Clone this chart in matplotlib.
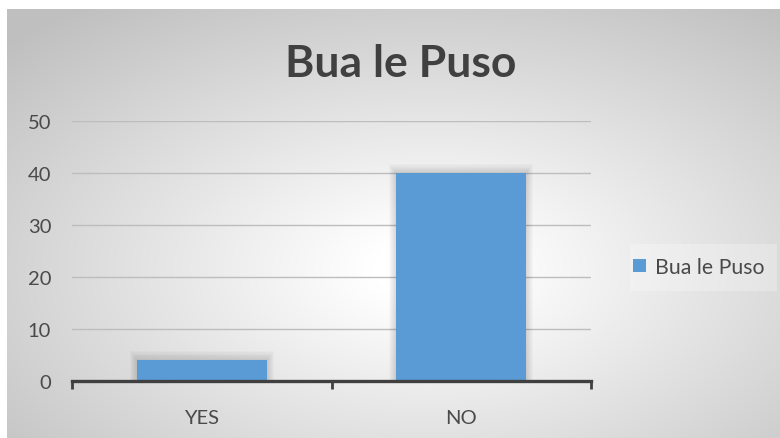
import numpy as np
import matplotlib
matplotlib.use("Agg")
import matplotlib.pyplot as plt
from matplotlib.patches import Patch, Rectangle

# chart data
categories = ["YES", "NO"]
values = [4, 40]
series_name = "Bua le Puso"
title = "Bua le Puso"
y_ticks = [0, 10, 20, 30, 40, 50]

W, H = 780, 439
plt.rcParams["font.family"] = ["Lato", "DejaVu Sans"]
TEXT = "#4a4a4a"

fig = plt.figure(figsize=(W / 100, H / 100), dpi=100)
fig.patch.set_facecolor("white")

# radial grey-to-white backdrop for the chart area
bg = fig.add_axes([7 / W, 0, 1 - 7 / W, 1 - 10 / H], zorder=-10)
gx, gy = np.meshgrid(np.linspace(7, W, 400), np.linspace(10, H, 240))
u = (gx - 430) / (W / 2)
v = (gy - 270) / (H / 2)
r = np.sqrt(u ** 2 + v ** 2)
t = np.clip((r - 0.15) / 1.35, 0, 1)
shade = 1.0 - 0.25 * t
bg.imshow(np.dstack([shade] * 3), aspect="auto", extent=(0, 1, 0, 1),
          interpolation="bilinear")
bg.set_axis_off()

ax = fig.add_axes([72 / W, 1 - 382 / H, (591 - 72) / W, (382 - 122) / H])
ax.set_facecolor("none")
x = np.arange(len(categories))
vals = np.array(values, dtype=float)

# soft halo behind the bars
for k in range(1, 8):
    ax.bar(x, vals + 0.25 * k, width=0.5 + 0.008 * k, color="black",
           alpha=0.02, lw=0, zorder=1)
ax.bar(x, vals, width=0.5, color="#5b9bd5", lw=0, zorder=3)

ax.set_xlim(-0.5, len(categories) - 0.5)
ax.set_ylim(0, 50)
ax.set_yticks(y_ticks)
ax.set_yticklabels([str(t) for t in y_ticks])
ax.yaxis.grid(True, color="#bdbdbd", lw=1.0, zorder=0)
ax.set_axisbelow(True)
ax.tick_params(axis="y", length=0, pad=15, labelsize=14.5, labelcolor=TEXT)

ax.set_xticks(np.arange(-0.5, len(categories)), labels=[])
ax.set_xticks(x, labels=categories, minor=True)
ax.tick_params(axis="x", which="major", length=6, width=2, color="#404040",
               direction="out")
ax.tick_params(axis="x", which="minor", length=0, pad=20, labelsize=14.5,
               labelcolor=TEXT)

for side in ("left", "right", "top"):
    ax.spines[side].set_visible(False)
ax.spines["bottom"].set_color("#404040")
ax.spines["bottom"].set_linewidth(2.4)
ax.spines["bottom"].set_zorder(5)

fig.text(401 / W, 1 - 77 / H, title, ha="center", va="baseline",
         fontsize=32, fontweight="bold", color="#404040")

# legend panel, then the legend entry on top of it
fig.add_artist(Rectangle((630 / W, 1 - 292 / H), 147 / W, 47 / H,
                         transform=fig.transFigure, facecolor="white",
                         alpha=0.25, lw=0, zorder=1))
fig.legend(handles=[Patch(facecolor="#5b9bd5", lw=0, label=series_name)],
           loc="center left", bbox_to_anchor=(633 / W, 1 - 268 / H),
           frameon=False, fontsize=15.3, handlelength=0.62,
           handleheight=0.62, handletextpad=0.4, borderpad=0,
           borderaxespad=0, labelcolor=TEXT)

fig.savefig("out.png", dpi=100)
